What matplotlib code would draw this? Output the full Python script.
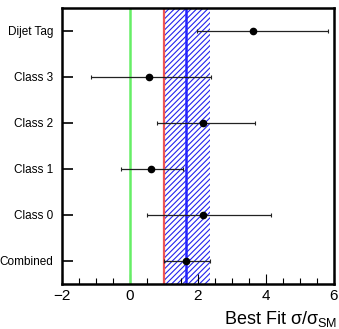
import matplotlib.pyplot as plt
from matplotlib.ticker import MultipleLocator

plt.rcParams['font.family'] = ['Liberation Sans', 'DejaVu Sans']
plt.rcParams['hatch.color'] = '#2222ee'
plt.rcParams['hatch.linewidth'] = 0.8

# categories, bottom to top
categories = ['Combined', 'Class 0', 'Class 1', 'Class 2', 'Class 3', 'Dijet Tag']
best_fit = [1.65, 2.14, 0.62, 2.16, 0.57, 3.63]
err_lo = [1.00, 0.49, -0.27, 0.78, -1.16, 1.96]
err_hi = [2.35, 4.14, 1.57, 3.69, 2.37, 5.84]

# combined result band and reference lines
comb_lo = 1.00
comb_hi = 2.35
comb_val = 1.65
sm_line = 1.0
zero_line = 0.0

fig = plt.figure(figsize=(3.39, 3.29), dpi=100)
ax = fig.add_axes([0.183, 0.137, 0.802, 0.839])

ax.axvspan(comb_lo, comb_hi, facecolor='white', edgecolor='#2222ee', hatch='//////', linewidth=0, zorder=1)
ax.axvline(comb_val, color='#2222ff', lw=1.8, zorder=2)
ax.axvline(sm_line, color='#ee5555', lw=1.6, zorder=2)
ax.axvline(zero_line, color='#66ee66', lw=1.8, zorder=2)

ypos = [i + 0.5 for i in range(len(categories))]
xerr = [[b - l for b, l in zip(best_fit, err_lo)], [h - b for b, h in zip(best_fit, err_hi)]]
ax.errorbar(best_fit, ypos, xerr=xerr, fmt='o', color='black', ms=4.5,
            elinewidth=0.9, capsize=1.5, capthick=0.8, ecolor='#222222', zorder=3)

ax.set_xlim(-2, 6)
ax.set_ylim(0, len(categories))
ax.set_yticks(ypos)
ax.set_yticklabels(categories, fontsize=8.5)
ax.set_xticks([-2, 0, 2, 4, 6])
ax.xaxis.set_minor_locator(MultipleLocator(0.5))
ax.tick_params(axis='x', direction='in', length=7, width=0.8, labelsize=11, pad=4)
ax.tick_params(axis='x', which='minor', direction='in', length=4, width=0.8)
ax.tick_params(axis='y', direction='in', length=8, width=1.2, pad=6.5)

for s in ax.spines.values():
    s.set_linewidth(1.8)

fig.text(0.995, 0.0, r'Best Fit $\mathregular{\sigma/\sigma_{SM}}$', ha='right', va='bottom', fontsize=13)

fig.savefig('out.png', dpi=100)
